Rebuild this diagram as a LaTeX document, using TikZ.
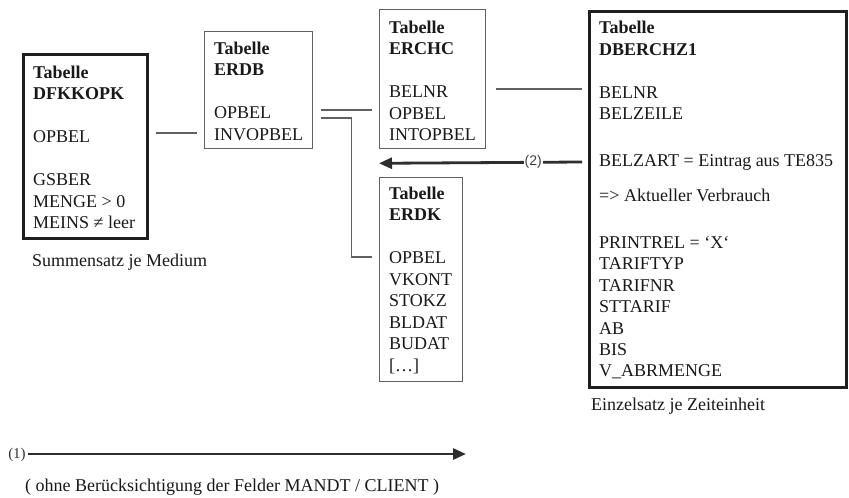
\documentclass[tikz,border=0pt]{standalone}
\usepackage{fontspec}
\setmainfont{Liberation Serif}
\newfontfamily\labsans{Liberation Sans}
\usetikzlibrary{arrows.meta}
\tikzset{
  thinbox/.style={draw=black!62, line width=1.3pt, inner sep=0pt, anchor=north west},
  thickbox/.style={draw=black!88, line width=2.6pt, inner sep=0pt, anchor=north west},
  txt/.style={anchor=base west, inner sep=0pt, text=black!90, font=\fontsize{18}{21.5}\selectfont},
  conn/.style={draw=black!62, line width=1.6pt},
  arr/.style={draw=black!82, line width=2.8pt, -{Triangle[length=13pt,width=11pt]}},
  numlab/.style={inner sep=1pt, text=black!75, fill=white},
}
\begin{document}
\begin{tikzpicture}[x=1pt, y=-1pt]
\useasboundingbox[fill=white] (0,0) rectangle (849,498);

% boxes
\node[thickbox, minimum width=124pt, minimum height=184pt] (dfkkopk) at (22,53) {};
\node[thinbox, minimum width=108pt, minimum height=117pt] (erdb) at (204,31) {};
\node[thinbox, minimum width=106pt, minimum height=139pt] (erchc) at (379,9) {};
\node[thinbox, minimum width=83pt, minimum height=204pt] (erdk) at (379,177) {};
\node[thickbox, minimum width=257pt, minimum height=376pt] (dberchz1) at (588,10) {};

% box texts
\node[txt] (dfkkopkt) at (33,78) {\begin{tabular}[t]{@{}l@{}}\textbf{Tabelle}\\ \textbf{DFKKOPK}\\ \\ OPBEL\\ \\ GSBER\\ MENGE > 0\\ MEINS ≠ leer\end{tabular}};
\node[txt] (erdbt) at (214,54) {\begin{tabular}[t]{@{}l@{}}\textbf{Tabelle}\\ \textbf{ERDB}\\ \\ OPBEL\\ INVOPBEL\end{tabular}};
\node[txt] (erchct) at (389,33) {\begin{tabular}[t]{@{}l@{}}\textbf{Tabelle}\\ \textbf{ERCHC}\\ \\ BELNR\\ OPBEL\\ INTOPBEL\end{tabular}};
\node[txt] (erdkt) at (389,199) {\begin{tabular}[t]{@{}l@{}}\textbf{Tabelle}\\ \textbf{ERDK}\\ \\ OPBEL\\ VKONT\\ STOKZ\\ BLDAT\\ BUDAT\\ {[…]}\end{tabular}};
\node[txt] (dberchz1t) at (599,33.5) {\begin{tabular}[t]{@{}l@{}}\textbf{Tabelle}\\ \textbf{DBERCHZ1}\\ \\ BELNR\\ BELZEILE\\[25pt] BELZART = Eintrag aus TE835\\[14pt] => Aktueller Verbrauch\\[25pt] PRINTREL = ‘X‘\\ TARIFTYP\\ TARIFNR\\ STTARIF\\ AB\\ BIS\\ V\_ABRMENGE\end{tabular}};

% captions
\node[txt] (sum) at (32,266) {Summensatz je Medium};
\node[txt] (einz) at (591,410) {Einzelsatz je Zeiteinheit};
\node[txt] (ohne) at (25,491) {( ohne Berücksichtigung der Felder MANDT / CLIENT )};

% connectors
\draw[conn] ([shift={(7,80)}]dfkkopk.north east) -- ([shift={(-7,102)}]erdb.north west);
\draw[conn] ([shift={(8,79)}]erdb.north east) -- ([shift={(-7,101)}]erchc.north west);
\draw[conn] ([shift={(8,87)}]erdb.north east) -- ++(30,0) |- ([shift={(-7,80)}]erdk.north west);
\draw[conn] ([shift={(10,80)}]erchc.north east) -- ([shift={(-6,79)}]dberchz1.north west);

% arrow (2)
\draw[arr] ([shift={(-6,152)}]dberchz1.north west) -- node[pos=0.24, numlab, font=\labsans\fontsize{14}{16}\selectfont] (two) {(2)} ([shift={(0,14)}]erchc.south west);

% arrow (1)
\node[inner sep=0pt, text=black!80, font=\fontsize{15}{17}\selectfont] (one) at (17,455) {(1)};
\coordinate (oneend) at (466,454);
\draw[arr] ([xshift=2pt]one.east |- oneend) -- (oneend);
\end{tikzpicture}
\end{document}
